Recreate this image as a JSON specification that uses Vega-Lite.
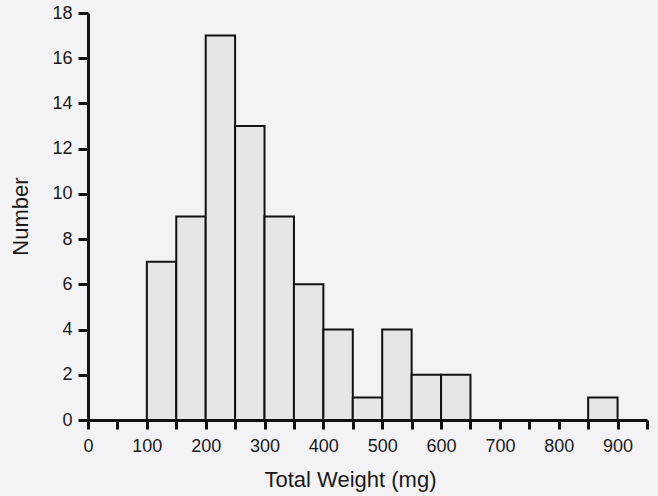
{
  "$schema": "https://vega.github.io/schema/vega-lite/v6.json",
  "width": 559,
  "height": 407,
  "autosize": {"type": "none"},
  "padding": {"left": 88, "top": 13, "right": 11, "bottom": 76},
  "background": "#f3f2f4",
  "config": {
    "view": {"stroke": null},
    "axis": {
      "grid": false,
      "domainColor": "#111",
      "domainWidth": 3,
      "tickColor": "#111",
      "tickWidth": 3,
      "labelFont": "Liberation Sans",
      "titleFont": "Liberation Sans",
      "labelColor": "#1a1a1a",
      "titleColor": "#1a1a1a",
      "labelFontSize": 18,
      "titleFontSize": 22,
      "titleFontWeight": "normal"
    }
  },
  "data": {
    "values": [
      {"start": 100, "end": 150, "count": 7},
      {"start": 150, "end": 200, "count": 9},
      {"start": 200, "end": 250, "count": 17},
      {"start": 250, "end": 300, "count": 13},
      {"start": 300, "end": 350, "count": 9},
      {"start": 350, "end": 400, "count": 6},
      {"start": 400, "end": 450, "count": 4},
      {"start": 450, "end": 500, "count": 1},
      {"start": 500, "end": 550, "count": 4},
      {"start": 550, "end": 600, "count": 2},
      {"start": 600, "end": 650, "count": 2},
      {"start": 850, "end": 900, "count": 1}
    ]
  },
  "mark": {"type": "bar", "fill": "#e6e6e8", "stroke": "#111", "strokeWidth": 2},
  "encoding": {
    "x": {
      "field": "start",
      "type": "quantitative",
      "scale": {"domain": [0, 950], "nice": false, "zero": false},
      "axis": {
        "title": "Total Weight (mg)",
        "values": [0, 50, 100, 150, 200, 250, 300, 350, 400, 450, 500, 550, 600, 650, 700, 750, 800, 850, 900, 950],
        "labelExpr": "datum.value % 100 == 0 && datum.value <= 900 ? datum.label : ''",
        "tickSize": 9,
        "labelPadding": 8,
        "labelFlush": false,
        "titleX": 262,
        "titleY": 66,
        "titleBaseline": "alphabetic",
        "titleAnchor": "middle"
      }
    },
    "x2": {"field": "end"},
    "y": {
      "field": "count",
      "type": "quantitative",
      "scale": {"domain": [0, 18], "nice": false},
      "axis": {
        "title": "Number",
        "values": [0, 2, 4, 6, 8, 10, 12, 14, 16, 18],
        "tickSize": 10,
        "labelPadding": 6,
        "labelFlush": false,
        "titleX": -61,
        "titleY": 203,
        "titleAngle": -90,
        "titleBaseline": "alphabetic",
        "titleAnchor": "middle"
      }
    },
    "y2": {"datum": 0}
  }
}
